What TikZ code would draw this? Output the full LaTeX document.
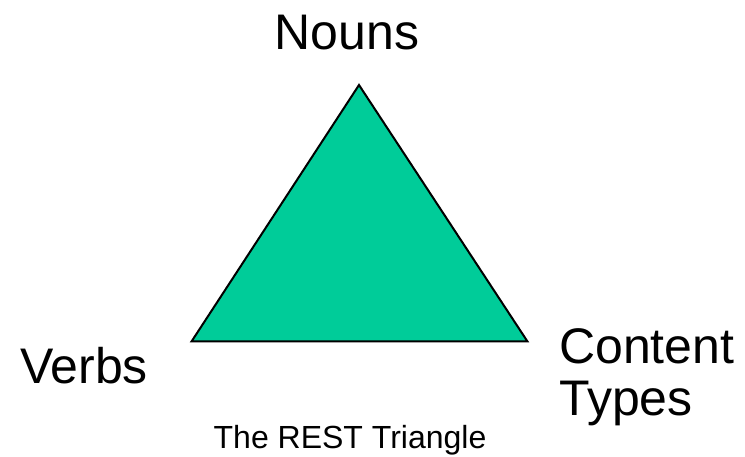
\documentclass[tikz,border=0pt]{standalone}
\usepackage{fontspec}
\setmainfont{Liberation Sans}
\definecolor{triFill}{HTML}{00CC99}
\begin{document}
\begin{tikzpicture}[x=1pt,y=-1pt,
  bigLabel/.style={inner sep=0pt,font=\fontsize{50}{52}\selectfont},
  capLabel/.style={inner sep=0pt,font=\fontsize{32}{36}\selectfont},
  triEdge/.style={draw=black,line width=2pt,line join=miter,fill=triFill}]
  \useasboundingbox (0,0) rectangle (745,457);
  % corners of the triangle
  \coordinate (apex) at (359,85);
  \coordinate (bl) at (191.5,341.5);
  \coordinate (br) at (527.5,341.5);
  \draw[triEdge] (apex) -- (bl) -- (br) -- cycle;
  % corner labels
  \node[bigLabel,anchor=base] (nouns) at (347,50) {Nouns};
  \node[bigLabel,anchor=base] (verbs) at (84,384) {Verbs};
  % two-line label: the base anchor sits on the last line
  \node[bigLabel,anchor=base west,align=left] (ctypes) at (559,415) {Content\\Types};
  % caption
  \node[capLabel,anchor=base] (caption) at (350,448) {The REST Triangle};
\end{tikzpicture}
\end{document}
